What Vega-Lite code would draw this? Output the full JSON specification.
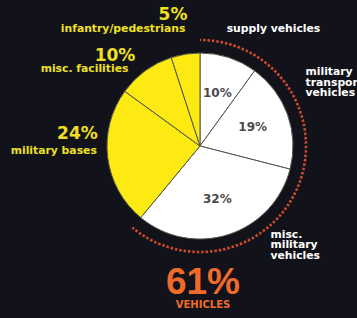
{
  "$schema": "https://vega.github.io/schema/vega-lite/v6.json",
  "width": 314,
  "height": 236,
  "autosize": "none",
  "padding": {"left": 43, "top": 28, "right": 0, "bottom": 54},
  "background": "#12131a",
  "config": {"view": {"stroke": null}},
  "title": {
    "text": "61%",
    "subtitle": "VEHICLES",
    "orient": "bottom",
    "anchor": "middle",
    "dx": 3,
    "color": "#f06a2c",
    "subtitleColor": "#f06a2c",
    "font": "Liberation Sans",
    "fontSize": 37,
    "fontWeight": "bold",
    "subtitleFont": "DejaVu Sans",
    "subtitleFontSize": 10,
    "subtitleFontWeight": "bold",
    "offset": -11,
    "subtitlePadding": -2
  },
  "data": {
    "values": [
      {"rank": 1, "name": "supply vehicles", "type": "vehicles", "value": 10, "label": "10%"},
      {"rank": 2, "name": "military transport vehicles", "type": "vehicles", "value": 19, "label": "19%"},
      {"rank": 3, "name": "misc. military vehicles", "type": "vehicles", "value": 32, "label": "32%"},
      {"rank": 4, "name": "military bases", "type": "other", "value": 24, "label": "24%"},
      {"rank": 5, "name": "misc. facilities", "type": "other", "value": 10, "label": "10%"},
      {"rank": 6, "name": "infantry/pedestrians", "type": "other", "value": 5, "label": "5%"}
    ]
  },
  "encoding": {
    "theta": {"field": "value", "type": "quantitative", "stack": true},
    "order": {"field": "rank", "type": "quantitative"}
  },
  "layer": [
    {
      "mark": {"type": "arc", "outerRadius": 93, "stroke": "#55554a", "strokeWidth": 1},
      "encoding": {
        "color": {"field": "type", "type": "nominal", "scale": {"domain": ["vehicles", "other"], "range": ["#ffffff", "#fcea12"]}, "legend": null}
      }
    },
    {
      "transform": [
        {"aggregate": [{"op": "sum", "field": "value", "as": "value"}, {"op": "min", "field": "rank", "as": "rank"}], "groupby": ["type"]}
      ],
      "mark": {"type": "arc", "radius": 106, "radius2": 106, "fillOpacity": 0, "stroke": "#cf4a2c", "strokeWidth": 2.6, "strokeDash": [2, 2.4051]},
      "encoding": {
        "strokeOpacity": {"condition": {"test": "datum.type == 'vehicles'", "value": 1}, "value": 0}
      }
    },
    {
      "mark": {"type": "text", "radius": 56, "font": "DejaVu Sans", "fontSize": 12, "fontWeight": "bold", "fill": "#4a4a4a", "align": "center", "baseline": "middle"},
      "encoding": {
        "text": {"condition": {"test": "datum.type == 'vehicles'", "field": "label", "type": "nominal"}, "value": ""}
      }
    },
    {
      "mark": {"type": "text", "radius": 125, "font": "DejaVu Sans", "fontSize": 10.8, "fontWeight": "bold", "fill": "#ffffff", "align": "left", "baseline": "middle", "dx": -12, "dy": 2},
      "encoding": {
        "text": {"condition": {"test": "datum.rank == 1", "field": "name", "type": "nominal"}, "value": ""}
      }
    },
    {
      "mark": {"type": "text", "radius": 110, "font": "DejaVu Sans", "fontSize": 10.8, "fontWeight": "bold", "fill": "#ffffff", "align": "left", "baseline": "top", "lineBreak": " ", "lineHeight": 10.8, "dx": 2, "dy": -43},
      "encoding": {
        "text": {"condition": {"test": "datum.rank == 2", "field": "name", "type": "nominal"}, "value": ""}
      }
    },
    {
      "mark": {"type": "text", "radius": 105, "font": "DejaVu Sans", "fontSize": 10.8, "fontWeight": "bold", "fill": "#ffffff", "align": "left", "baseline": "top", "lineBreak": " ", "lineHeight": 10.5, "dx": 38, "dy": -17},
      "encoding": {
        "text": {"condition": {"test": "datum.rank == 3", "field": "name", "type": "nominal"}, "value": ""}
      }
    },
    {
      "mark": {"type": "text", "radius": 125, "font": "DejaVu Sans", "fontSize": 17, "fontWeight": "bold", "fill": "#f0e020", "align": "right", "baseline": "middle", "dx": 7, "dy": -8},
      "encoding": {
        "text": {"condition": {"test": "datum.rank == 6", "field": "label", "type": "nominal"}, "value": ""}
      }
    },
    {
      "mark": {"type": "text", "radius": 125, "font": "DejaVu Sans", "fontSize": 10.8, "fontWeight": "bold", "fill": "#f0e020", "align": "right", "baseline": "middle", "dx": 5, "dy": 6.5},
      "encoding": {
        "text": {"condition": {"test": "datum.rank == 6", "field": "name", "type": "nominal"}, "value": ""}
      }
    },
    {
      "mark": {"type": "text", "radius": 115, "font": "DejaVu Sans", "fontSize": 17, "fontWeight": "bold", "fill": "#f0e020", "align": "right", "baseline": "middle", "dx": 3, "dy": 3},
      "encoding": {
        "text": {"condition": {"test": "datum.rank == 5", "field": "label", "type": "nominal"}, "value": ""}
      }
    },
    {
      "mark": {"type": "text", "radius": 115, "font": "DejaVu Sans", "fontSize": 10.8, "fontWeight": "bold", "fill": "#f0e020", "align": "right", "baseline": "middle", "dx": -4, "dy": 16},
      "encoding": {
        "text": {"condition": {"test": "datum.rank == 5", "field": "name", "type": "nominal"}, "value": ""}
      }
    },
    {
      "mark": {"type": "text", "radius": 105, "font": "DejaVu Sans", "fontSize": 17, "fontWeight": "bold", "fill": "#f0e020", "align": "right", "baseline": "middle", "dx": 2, "dy": -25},
      "encoding": {
        "text": {"condition": {"test": "datum.rank == 4", "field": "label", "type": "nominal"}, "value": ""}
      }
    },
    {
      "mark": {"type": "text", "radius": 105, "font": "DejaVu Sans", "fontSize": 10.8, "fontWeight": "bold", "fill": "#f0e020", "align": "right", "baseline": "middle", "dx": 1, "dy": -8},
      "encoding": {
        "text": {"condition": {"test": "datum.rank == 4", "field": "name", "type": "nominal"}, "value": ""}
      }
    }
  ]
}
